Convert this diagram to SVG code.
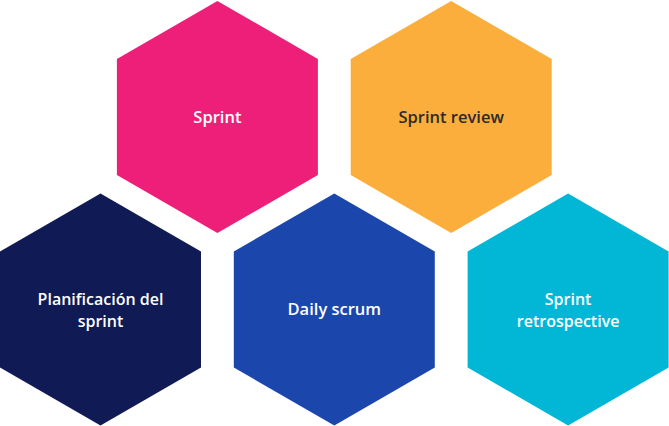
<svg xmlns="http://www.w3.org/2000/svg" width="669" height="426" viewBox="0 0 669 426">
<style>
.lbl{font-family:"Open Sans","Noto Sans","Liberation Sans",sans-serif;font-weight:600;font-size:16.5px;text-anchor:middle;fill:#ffffff}
.two{font-size:16px}
.dark{fill:#2b2b2b}
</style>
<defs>
<polygon id="hex" points="0,-116 100.5,-58 100.5,58 0,116 -100.5,58 -100.5,-58"/>
</defs>
<rect width="669" height="426" fill="#ffffff"/>
<g id="sprint">
<use href="#hex" x="217.4" y="117" fill="#ED1F79"/>
<text class="lbl" x="217.4" y="122.7">Sprint</text>
</g>
<g id="sprint-review">
<use href="#hex" x="451.2" y="117" fill="#FBAE3C"/>
<text class="lbl dark" x="451.2" y="122.7">Sprint review</text>
</g>
<g id="planificacion">
<use href="#hex" x="100.5" y="309.5" fill="#101A54"/>
<text class="lbl two" x="100.5" y="304.6">Planificación del</text>
<text class="lbl two" x="100.5" y="326.6">sprint</text>
</g>
<g id="daily-scrum">
<use href="#hex" x="334.3" y="309.5" fill="#1B47AC"/>
<text class="lbl" x="334.3" y="315.2">Daily scrum</text>
</g>
<g id="sprint-retrospective">
<use href="#hex" x="568.1" y="309.5" fill="#02B7D6"/>
<text class="lbl two" x="568.1" y="304.6">Sprint</text>
<text class="lbl two" x="568.1" y="326.6">retrospective</text>
</g>
<g id="connectors"></g>
</svg>
